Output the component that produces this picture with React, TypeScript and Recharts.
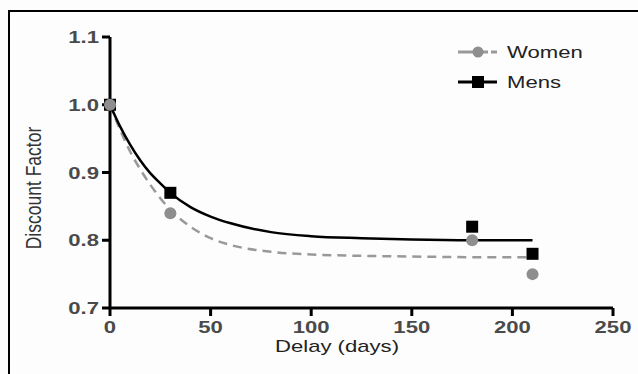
import React from 'react';
import {
  ComposedChart, Line, Scatter, XAxis, YAxis,
} from 'recharts';

// fitted curves
const curveDelay = [0, 5, 10, 15, 20, 25, 30, 40, 50, 60, 80, 100, 125, 150, 180, 210];
const womenFit = [1.0, 0.963, 0.931, 0.905, 0.882, 0.862, 0.845, 0.82, 0.803, 0.793, 0.783, 0.779, 0.777, 0.776, 0.775, 0.775];
const mensFit = [1.0, 0.968, 0.941, 0.918, 0.899, 0.884, 0.87, 0.849, 0.835, 0.825, 0.812, 0.806, 0.803, 0.801, 0.8, 0.8];

// observed points
const obsDelay = [0, 30, 180, 210];
const womenObs = [1.0, 0.84, 0.8, 0.75];
const mensObs = [1.0, 0.87, 0.82, 0.78];

const xTicks = [0, 50, 100, 150, 200, 250];
const yTicks = [0.7, 0.8, 0.9, 1.0, 1.1];

const WOMEN_GREY = '#8e8e8e';
const FONT = '"Liberation Sans", Arial, sans-serif';
const STRETCH = 1.3; // the original image is stretched sideways

const womenCurve = curveDelay.map((d, i) => ({ delay: d, value: womenFit[i] }));
const mensCurve = curveDelay.map((d, i) => ({ delay: d, value: mensFit[i] }));
const womenPts = obsDelay.map((d, i) => ({ delay: d, value: womenObs[i] }));
const mensPts = obsDelay.map((d, i) => ({ delay: d, value: mensObs[i] }));

const Square = ({ cx, cy }: any) => (
  <rect x={cx - 6} y={cy - 6} width={12} height={12} fill="#000" />
);
const Dot = ({ cx, cy }: any) => <circle cx={cx} cy={cy} r={6} fill={WOMEN_GREY} />;

const tickText = { fontSize: 17, fontWeight: 700, fill: '#4a4a4a', fontFamily: FONT };

const XTick = ({ x, y, payload }: any) => (
  <text transform={`translate(${x},${y}) scale(${STRETCH},1)`} textAnchor="middle" dy="0.71em" {...tickText}>
    {payload.value}
  </text>
);
const YTick = ({ x, y, payload }: any) => (
  <text transform={`translate(${x},${y}) scale(${STRETCH},1)`} textAnchor="end" dy="0.36em" {...tickText}>
    {Number(payload.value).toFixed(1)}
  </text>
);

const LegendBox = () => (
  <svg width={160} height={60} style={{ overflow: 'visible', display: 'block' }}>
    {/* Women */}
    <line x1={3} y1={14} x2={33} y2={14} stroke="#999" strokeWidth={3} />
    <line x1={36} y1={14} x2={42} y2={14} stroke="#999" strokeWidth={3} />
    <circle cx={23} cy={14} r={5.5} fill={WOMEN_GREY} />
    <text transform={`translate(52,14) scale(${STRETCH},1)`} dy="0.35em" fontSize={17} fill="#222" fontFamily={FONT}>Women</text>
    {/* Mens */}
    <line x1={3} y1={44} x2={42} y2={44} stroke="#000" strokeWidth={3} />
    <rect x={17} y={38} width={12} height={12} fill="#000" />
    <text transform={`translate(52,44) scale(${STRETCH},1)`} dy="0.35em" fontSize={17} fill="#222" fontFamily={FONT}>Mens</text>
  </svg>
);

export default function App() {
  return (
    <div style={{ position: 'fixed', left: 0, top: 0, width: 638, height: 374, background: '#fdfdfd', overflow: 'hidden', fontFamily: FONT }}>
      {/* frame */}
      <div style={{ position: 'absolute', left: 8, top: 10, width: 700, height: 400, borderTop: '2px solid #000', borderLeft: '2px solid #000' }} />

      <ComposedChart
        width={638}
        height={374}
        margin={{ top: 37, right: 25, left: 40, bottom: 36 }}
        style={{ position: 'absolute', left: 0, top: 0 }}
      >
        <XAxis
          dataKey="delay"
          type="number"
          domain={[0, 250]}
          ticks={xTicks}
          allowDuplicatedCategory={false}
          height={30}
          tick={<XTick />}
          tickSize={8}
          tickMargin={5}
          axisLine={{ stroke: '#000', strokeWidth: 3 }}
          tickLine={{ stroke: '#000', strokeWidth: 3 }}
        />
        <YAxis
          dataKey="value"
          type="number"
          domain={[0.7, 1.1]}
          ticks={yTicks}
          width={70}
          tick={<YTick />}
          tickSize={8}
          tickMargin={3}
          axisLine={{ stroke: '#000', strokeWidth: 3 }}
          tickLine={{ stroke: '#000', strokeWidth: 3 }}
        />
        <Line
          data={womenCurve}
          dataKey="value"
          type="monotone"
          stroke="#999"
          strokeWidth={2.5}
          strokeDasharray="9 6"
          dot={false}
          activeDot={false}
          isAnimationActive={false}
          legendType="none"
        />
        <Line
          data={mensCurve}
          dataKey="value"
          type="monotone"
          stroke="#000"
          strokeWidth={2.5}
          dot={false}
          activeDot={false}
          isAnimationActive={false}
          legendType="none"
        />
        <Scatter data={mensPts} dataKey="value" shape={<Square />} isAnimationActive={false} legendType="none" />
        <Scatter data={womenPts} dataKey="value" shape={<Dot />} isAnimationActive={false} legendType="none" />
      </ComposedChart>

      {/* legend */}
      <div style={{ position: 'absolute', left: 455, top: 38 }}>
        <LegendBox />
      </div>

      {/* axis titles */}
      <div style={{ position: 'absolute', left: 337, top: 347, transform: `translate(-50%, -50%) scaleX(${STRETCH})`, whiteSpace: 'nowrap', fontSize: 17, color: '#222', lineHeight: '20px' }}>
        Delay (days)
      </div>
      <div style={{ position: 'absolute', left: 33, top: 188, transform: `translate(-50%, -50%) scaleX(${STRETCH}) rotate(-90deg)`, whiteSpace: 'nowrap', fontSize: 17.5, color: '#333', lineHeight: '18px' }}>
        Discount Factor
      </div>
    </div>
  );
}
